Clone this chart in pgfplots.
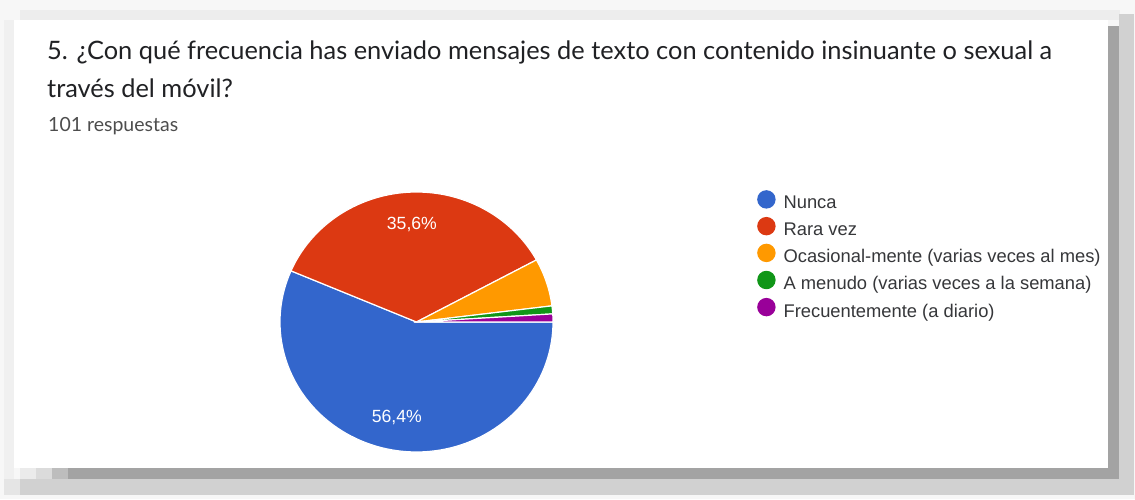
\documentclass[border=0pt]{standalone}
\usepackage{fontspec}
\setmainfont{Liberation Sans}
\newfontfamily\titlefont{Lato}
\usepackage{pgfplots}
\pgfplotsset{compat=1.18}

\definecolor{cnunca}{HTML}{3366CC}
\definecolor{crara}{HTML}{DC3912}
\definecolor{cocas}{HTML}{FF9900}
\definecolor{cmenudo}{HTML}{109618}
\definecolor{cfrec}{HTML}{990099}
\definecolor{txtdark}{HTML}{202124}
\definecolor{txtgrey}{HTML}{4D4D4D}

% answers per option (101 in total)
\def\vA{57}  % Nunca
\def\vB{36}  % Rara vez
\def\vC{6}   % Ocasional-mente
\def\vD{1}   % A menudo
\def\vE{1}   % Frecuentemente
\def\total{101}

% pie geometry, in pixels of the card (the screenshot is a little squashed)
\def\cx{416.5}
\def\cy{-322}
\def\rx{136.5}
\def\ry{130}

\newlength\tw
\newcommand\fitsize[3]{\settowidth\tw{\fontsize{10}{12}\selectfont #3}\pgfmathsetmacro#1{10*#2/\tw}}

\pgfplotsset{
  slice/.style={fill=#1, draw=white, line width=1.2pt, samples=90, variable=\t,
    legend image code/.code={\fill[#1] (9pt,4pt) circle (8.6pt);}},
}

\begin{document}
\fitsize{\titlesize}{1005}{\titlefont 5. ¿Con qué frecuencia has enviado mensajes de texto con contenido insinuante o sexual a}%
\fitsize{\subsize}{130}{\titlefont 101 respuestas}%
\fitsize{\legsize}{317}{Ocasional-mente (varias veces al mes)}%
\fitsize{\pctsize}{50}{35,6\%}%
% cumulative angles, clockwise from 3 o'clock
\pgfmathsetmacro\aA{-\vA/\total*360}%
\pgfmathsetmacro\aB{\aA-\vB/\total*360}%
\pgfmathsetmacro\aC{\aB-\vC/\total*360}%
\pgfmathsetmacro\aD{\aC-\vD/\total*360}%
\pgfmathsetmacro\aE{\aD-\vE/\total*360}%
\pgfmathsetmacro\mA{\aA/2}%
\pgfmathsetmacro\mB{(\aA+\aB)/2}%
\begin{tikzpicture}
\begin{axis}[
  width=1135pt, height=499pt, scale only axis,
  xmin=0, xmax=1135, ymin=-499, ymax=0,
  hide axis, clip=false,
  legend style={draw=none, fill=none, at={(axis cs:757,-190)}, anchor=north west,
    font=\fontsize{\legsize}{\legsize}\selectfont\color{txtdark!90},
    row sep=6.5pt, column sep=8pt, inner sep=0pt,
    nodes={inner sep=0pt}},
  legend cell align=left,
]
% card and shadow
\fill[black!3] (axis cs:0,0) rectangle (axis cs:1135,-499);
\fill[black!7] (axis cs:20,-10) rectangle (axis cs:1120,-20);
\fill[black!6] (axis cs:4,-20) rectangle (axis cs:14,-495);
\fill[black!18] (axis cs:1119,-14) rectangle (axis cs:1134,-495);
\fill[black!18] (axis cs:20,-479) rectangle (axis cs:1134,-495);
\fill[black!10] (axis cs:4,-479) rectangle (axis cs:20,-495);
\fill[black!36] (axis cs:1108,-26) rectangle (axis cs:1119,-479);
\fill[black!36] (axis cs:68,-468) rectangle (axis cs:1119,-479);
\fill[black!26] (axis cs:52,-468) rectangle (axis cs:68,-479);
\fill[black!14] (axis cs:36,-468) rectangle (axis cs:52,-479);
\fill[black!8] (axis cs:20,-468) rectangle (axis cs:36,-479);
\fill[white] (axis cs:14,-20) rectangle (axis cs:1108,-468);

% slices
\addplot[slice=cnunca, domain=\aA:0] ({\cx+\rx*cos(\t)},{\cy+\ry*sin(\t)}) -- (axis cs:\cx,\cy) -- cycle;
\addlegendentry{Nunca}
\addplot[slice=crara, domain=\aB:\aA] ({\cx+\rx*cos(\t)},{\cy+\ry*sin(\t)}) -- (axis cs:\cx,\cy) -- cycle;
\addlegendentry{Rara vez}
\addplot[slice=cocas, domain=\aC:\aB] ({\cx+\rx*cos(\t)},{\cy+\ry*sin(\t)}) -- (axis cs:\cx,\cy) -- cycle;
\addlegendentry{Ocasional-mente (varias veces al mes)}
\addplot[slice=cmenudo, domain=\aD:\aC] ({\cx+\rx*cos(\t)},{\cy+\ry*sin(\t)}) -- (axis cs:\cx,\cy) -- cycle;
\addlegendentry{A menudo (varias veces a la semana)}
\addplot[slice=cfrec, domain=\aE:\aD] ({\cx+\rx*cos(\t)},{\cy+\ry*sin(\t)}) -- (axis cs:\cx,\cy) -- cycle;
\addlegendentry{Frecuentemente (a diario)}

% percentages inside the two large slices
\node[white, font=\fontsize{\pctsize}{\pctsize}\selectfont, inner sep=0pt]
  at (axis cs:{\cx+0.72*\rx*cos(\mA)},{\cy+0.75*\ry*sin(\mA)}) {56,4\%};
\node[white, font=\fontsize{\pctsize}{\pctsize}\selectfont, inner sep=0pt]
  at (axis cs:{\cx+0.72*\rx*cos(\mB)},{\cy+0.75*\ry*sin(\mB)}) {35,6\%};

% question and count
\node[anchor=base west, inner sep=0pt, text=txtdark, font=\titlefont\fontsize{\titlesize}{\titlesize}\selectfont]
  at (axis cs:47,-60) {5. ¿Con qué frecuencia has enviado mensajes de texto con contenido insinuante o sexual a};
\node[anchor=base west, inner sep=0pt, text=txtdark, font=\titlefont\fontsize{\titlesize}{\titlesize}\selectfont]
  at (axis cs:47,-98) {través del móvil?};
\node[anchor=base west, inner sep=0pt, text=txtgrey, font=\titlefont\fontsize{\subsize}{\subsize}\selectfont]
  at (axis cs:48,-132) {101 respuestas};
\end{axis}
\end{tikzpicture}
\end{document}
